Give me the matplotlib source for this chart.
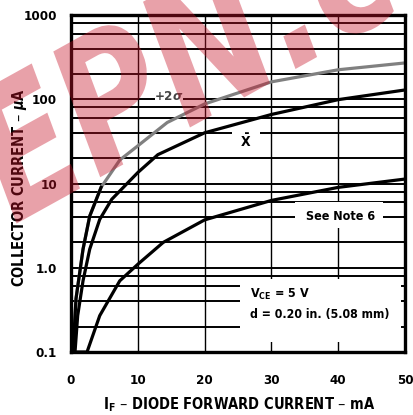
import matplotlib
matplotlib.use("Agg")
import matplotlib.pyplot as plt
from matplotlib.ticker import FixedLocator, NullFormatter
from matplotlib.patches import Rectangle, PathPatch
from matplotlib.textpath import TextPath
from matplotlib.font_manager import FontProperties
from matplotlib.transforms import Affine2D, IdentityTransform

plt.rcParams['font.family'] = ['DejaVu Sans']
plt.rcParams['font.stretch'] = 'condensed'
plt.rcParams['font.weight'] = 'bold'
plt.rcParams['axes.labelweight'] = 'bold'
plt.rcParams['mathtext.default'] = 'bf'

# I_F (mA) vs collector current (uA)
plus2s_x = [0.3, 0.75, 1.8, 2.8, 4.5, 7.3, 10, 14.4, 20, 30, 40, 50]
plus2s_y = [0.1, 0.43, 1.66, 4.1, 9.0, 19, 28, 53, 88, 161, 224, 270]

mean_x = [0.6, 1.0, 1.8, 2.8, 4.3, 6.1, 10, 13, 20, 30, 40, 50]
mean_y = [0.1, 0.27, 0.70, 1.66, 3.75, 6.5, 13.5, 22, 40, 66, 99, 129]

low_x = [0.5, 2.4, 4.3, 7.3, 10, 13.8, 20, 30, 40, 50]
low_y = [0.1, 0.1, 0.27, 0.70, 1.1, 2.0, 3.7, 6.3, 9.0, 11.3]

x_ticks = [0, 10, 20, 30, 40, 50]
y_ticks = [0.1, 1, 10, 100, 1000]
y_tick_labels = ['0.1', '1.0', '10', '100', '1000']
y_minor = [m * d for d in [0.1, 1, 10, 100] for m in [2, 4, 6, 8]]

fig = plt.figure(figsize=(4.14, 4.15), dpi=100)
ax = fig.add_axes([0.1715, 0.1518, 0.807, 0.812])

ax.set_yscale('log')
ax.set_xlim(0, 50)
ax.set_ylim(0.1, 1000)
ax.set_xticks(x_ticks)
ax.set_yticks(y_ticks)
ax.set_yticklabels(y_tick_labels)
ax.yaxis.set_minor_locator(FixedLocator(y_minor))
ax.yaxis.set_minor_formatter(NullFormatter())
ax.tick_params(which='both', length=0)
ax.tick_params(axis='y', pad=10, labelsize=9.5)
ax.tick_params(axis='x', pad=16, labelsize=9.5)

ax.grid(True, which='major', axis='x', color='black', lw=1.0, zorder=1)
ax.grid(True, which='both', axis='y', color='black', lw=1.4, zorder=1)
ax.set_axisbelow(True)
for sp in ax.spines.values():
    sp.set_linewidth(2.4)
    sp.set_zorder(6)

# curves
ax.plot(plus2s_x, plus2s_y, color='#808080', lw=2.3, zorder=4, solid_capstyle='round')
ax.plot(plus2s_x[:5], plus2s_y[:5], color='black', lw=2.3, zorder=4)
ax.plot(mean_x, mean_y, color='black', lw=2.3, zorder=4)
ax.plot(low_x, low_y, color='black', lw=2.3, zorder=4)

# white boxes that break the grid behind the labels
ax.add_patch(Rectangle((0.506, 0.03), 0.482, 0.187, transform=ax.transAxes,
                       facecolor='white', edgecolor='none', zorder=2))
ax.add_patch(Rectangle((0.671, 0.368), 0.263, 0.077, transform=ax.transAxes,
                       facecolor='white', edgecolor='none', zorder=2))
ax.add_patch(Rectangle((0.252, 0.735), 0.084, 0.035, transform=ax.transAxes,
                       facecolor='white', edgecolor='none', zorder=2))
ax.add_patch(Rectangle((0.482, 0.612), 0.084, 0.05, transform=ax.transAxes,
                       facecolor='white', edgecolor='none', zorder=2))

ax.text(0.293, 0.757, r'+2$\it{\sigma}$', transform=ax.transAxes, ha='center', va='center',
        fontsize=9.5, color='#444444', zorder=3)
ax.text(0.524, 0.625, r'$\bar{X}$', transform=ax.transAxes, ha='center', va='center',
        fontsize=10, zorder=3)
ax.text(0.808, 0.402, 'See Note 6', transform=ax.transAxes, ha='center', va='center',
        fontsize=9, zorder=3)
ax.text(0.536, 0.172, r'V$_{CE}$ = 5 V', transform=ax.transAxes, ha='left', va='center',
        fontsize=9, zorder=3)
ax.text(0.536, 0.112, 'd = 0.20 in. (5.08 mm)', transform=ax.transAxes, ha='left', va='center',
        fontsize=8.8, zorder=3)

ax.set_xlabel(r'I$_F$ – DIODE FORWARD CURRENT – mA', fontsize=10.5, va='center')
ax.xaxis.set_label_coords(0.503, -0.157)
ax.set_ylabel(r'COLLECTOR CURRENT – $\it{\mu}$A', fontsize=10.5, va='center')
ax.yaxis.set_label_coords(-0.153, 0.487)

# site watermark, drawn as a stretched text outline in pixel space
wm = TextPath((0, 0), 'EPN.com', size=140,
              prop=FontProperties(family='DejaVu Sans', weight='bold', style='oblique',
                                  stretch='normal'))
wm_tr = Affine2D().scale(1.0, 1.3).rotate_deg(29).translate(14, 190)
fig.patches.append(PathPatch(wm_tr.transform_path(wm), transform=IdentityTransform(),
                             facecolor=(0.78, 0.08, 0.16), edgecolor='none', alpha=0.4,
                             zorder=10, figure=fig))

fig.savefig('out.png', dpi=100)
